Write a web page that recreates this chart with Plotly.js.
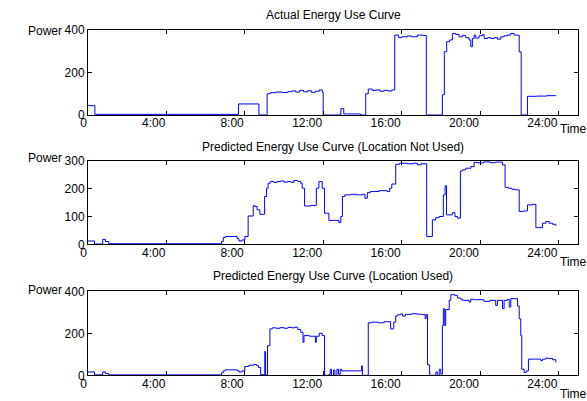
<!DOCTYPE html>
<html>
<head>
<meta charset="utf-8">
<script src="https://cdn.plot.ly/plotly-3.0.1.min.js"></script>
<style>html,body{margin:0;padding:0;background:#fff;}#chart{width:587px;height:401px;}</style>
</head>
<body>
<div id="chart"></div>
<script>
// ---- data (time in hours, power) ----
const actualT = [0,0.35,7.68,8.72,9.14,9.3,9.6,9.9,10.2,10.4,10.6,10.8,11.0,11.2,11.4,11.6,11.8,11.95,12.0,12.9,13.05,13.9,14.17,14.3,14.5,14.7,14.9,15.1,15.3,15.5,15.65,15.85,16.0,16.3,16.5,16.8,17.1,17.26,18.08,18.18,18.3,18.45,18.59,18.76,18.93,19.1,19.27,19.44,19.53,19.61,19.7,19.78,19.95,20.12,20.21,20.38,20.55,20.72,20.89,21.06,21.23,21.4,21.57,21.74,21.91,22.0,22.1,22.42,22.9,23.4,23.87];
const actualP = [44,3,52,0,100,105,108,106,110,113,108,116,109,114,107,112,118,108,0,30,5,0,100,122,116,118,112,116,113,118,376,364,368,372,368,376,374,0,95,298,345,353,384,379,368,375,364,353,321,360,376,362,373,379,360,364,360,364,357,368,373,376,384,376,376,297,0,88,89,91,93];

const predNoLocT = [0,0.33,0.75,0.89,1.06,6.81,6.9,7.0,7.61,7.7,7.87,8.0,8.17,8.43,8.51,8.63,8.77,9.01,9.11,9.19,9.3,9.48,9.65,9.82,10.0,10.17,10.35,10.5,10.68,10.85,10.93,11.05,11.36,11.65,11.78,11.95,12.07,12.29,12.8,12.9,12.98,13.1,13.4,13.7,14.0,14.13,14.25,14.4,14.85,15.27,15.39,15.5,15.7,15.9,16.3,16.6,16.8,17.0,17.28,17.57,17.74,17.91,18.13,18.22,18.29,18.59,18.72,18.85,19.0,19.1,19.27,19.53,19.7,19.9,20.2,20.5,20.8,21.15,21.28,21.45,21.62,21.8,22.0,22.2,22.42,22.68,22.85,23.19,23.36,23.53,23.7,23.87];
const predNoLocP = [12,1,18,10,2,10,24,28,20,12,16,28,102,139,136,124,108,172,202,220,226,223,226,228,224,226,223,230,227,220,202,138,140,202,226,202,112,86,78,100,172,178,180,178,180,166,186,190,193,190,202,217,288,292,290,292,286,290,28,88,96,100,178,211,106,114,100,94,264,268,274,280,295,293,297,294,296,286,205,202,198,196,118,120,142,144,60,76,82,76,72,66];

const predLocT = [0,0.33,0.75,0.89,1.06,6.81,6.9,7.0,7.61,7.7,7.87,8.0,8.2,8.45,8.6,8.7,8.81,9.02,9.06,9.16,9.28,9.4,9.6,9.8,10.0,10.2,10.4,10.55,10.7,10.85,10.97,11.02,11.3,11.6,11.65,11.8,11.95,12.07,12.3,12.36,12.42,12.53,12.6,12.7,12.78,12.87,12.94,13.96,14.0,14.3,14.5,14.8,15.1,15.44,15.6,15.7,15.78,15.95,16.05,16.2,16.5,16.8,17.0,17.2,17.25,17.32,17.43,17.75,17.82,17.92,18.0,18.08,18.13,18.2,18.25,18.43,18.51,18.7,18.85,19.02,19.1,19.44,19.53,19.7,20.2,20.5,20.8,20.89,21.15,21.23,21.4,21.49,21.57,21.91,22.0,22.08,22.13,22.25,22.36,22.47,23.1,23.19,23.36,23.53,23.7,23.87];
const predLocP = [16,2,16,8,2,12,21,26,22,16,21,42,48,51,46,37,3,114,2,141,221,226,224,227,224,228,226,229,218,205,157,189,186,157,186,200,189,0,5,29,0,25,0,29,5,29,21,45,0,250,253,250,255,221,253,282,288,292,282,290,293,291,289,269,289,50,0,16,0,29,5,237,317,237,313,357,384,381,368,362,357,349,362,360,352,357,333,357,317,357,362,325,365,330,269,189,29,13,21,77,70,77,82,80,74,61];

const tickHours = [0,4,8,12,16,20,24];
const tickLabels = ['0','4:00','8:00','12:00','16:00','20:00','24:00'];
const panelTitles = ['Actual Energy Use Curve','Predicted Energy Use Curve (Location Not Used)','Predicted Energy Use Curve (Location Used)'];
const yTicks1 = [0,200,400];
const yTicks2 = [0,100,200,300];
const yTicks3 = [0,200,400];

// ---- layout helpers ----
const W = 587, H = 401;
const font = {family: 'Liberation Sans, Arial, sans-serif', size: 12, color: '#000'};
const xl = 88/W, xr = 578/W;
const panels = [[30,115],[161,244.3],[291.3,375.3]];
const dom = panels.map(p => [1 - p[1]/H, 1 - p[0]/H]);

function xaxis(anchor){
  return {domain:[xl,xr], range:[0,25], anchor:anchor, tickvals:tickHours, ticktext:tickLabels,
    ticks:'inside', ticklen:4, tickcolor:'#000', showline:true, linecolor:'#000', linewidth:1,
    mirror:'ticks', showgrid:false, zeroline:false, tickfont:font, ticklabelposition:'outside left',
    ticklabelstandoff:-3, fixedrange:true};
}
function yaxis(anchor, d, ticks){
  return {domain:d, range:[0, ticks[ticks.length-1]], anchor:anchor, tickvals:ticks,
    ticks:'inside', ticklen:4, tickcolor:'#000', showline:true, linecolor:'#000', linewidth:1,
    mirror:'ticks', showgrid:false, zeroline:false, tickfont:font, fixedrange:true};
}

const lineStyle = {color:'#0000ff', width:1, shape:'hv'};
const traces = [
  {x:actualT, y:actualP, xaxis:'x', yaxis:'y', mode:'lines', line:lineStyle, hoverinfo:'skip'},
  {x:predNoLocT, y:predNoLocP, xaxis:'x2', yaxis:'y2', mode:'lines', line:lineStyle, hoverinfo:'skip'},
  {x:predLocT, y:predLocP, xaxis:'x3', yaxis:'y3', mode:'lines', line:lineStyle, hoverinfo:'skip'}
];

const annotations = [];
const titleY = [15, 146.7, 276.3];
const powerY = [31, 157.7, 289.7];
const timeY = [129, 261.7, 394];
for (let i=0;i<3;i++){
  annotations.push({text:panelTitles[i], xref:'paper', yref:'paper', x:(xl+xr)/2, y:1-titleY[i]/H,
    xanchor:'center', yanchor:'middle', showarrow:false, font:font});
  annotations.push({text:'Power', xref:'paper', yref:'paper', x:64/W, y:1-powerY[i]/H,
    xanchor:'right', yanchor:'middle', showarrow:false, font:font});
  annotations.push({text:'Time', xref:'paper', yref:'paper', x:558/W, y:1-timeY[i]/H,
    xanchor:'left', yanchor:'middle', showarrow:false, font:font});
}

const layout = {
  width:W, height:H, margin:{l:0,r:0,t:0,b:0}, paper_bgcolor:'#fff', plot_bgcolor:'#fff',
  showlegend:false, font:font,
  xaxis:xaxis('y'), yaxis:yaxis('x', dom[0], yTicks1),
  xaxis2:xaxis('y2'), yaxis2:yaxis('x2', dom[1], yTicks2),
  xaxis3:xaxis('y3'), yaxis3:yaxis('x3', dom[2], yTicks3),
  annotations:annotations
};
Plotly.newPlot('chart', traces, layout, {displayModeBar:false, staticPlot:true});
</script>
</body>
</html>
